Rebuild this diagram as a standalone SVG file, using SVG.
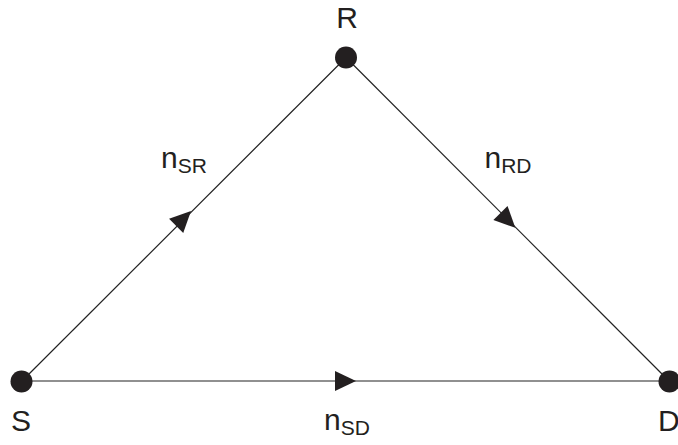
<svg xmlns="http://www.w3.org/2000/svg" xmlns:xlink="http://www.w3.org/1999/xlink" width="678" height="445" viewBox="0 0 678 445">
<style>
.edge{stroke:#222;stroke-width:1.2;fill:none}
.node{fill:#231f20}
.lbl{font-family:"Liberation Sans",Arial,sans-serif;font-size:30px;fill:#231f20}
.sub{font-size:21px}
.ah{fill:#231f20}
</style>
<defs>
<path id="arrow" d="M0,0 L-21,-10 L-21,10 Z"/>
</defs>
<g id="connectors">
<line class="edge" x1="21.5" y1="381.5" x2="346" y2="57.5"/>
<line class="edge" x1="346" y1="57.5" x2="669.5" y2="381.5"/>
<line class="edge" x1="21.5" y1="381" x2="669.5" y2="381"/>
<use xlink:href="#arrow" class="ah" transform="translate(191,211) rotate(-45)"/>
<use xlink:href="#arrow" class="ah" transform="translate(515.3,227.8) rotate(45)"/>
<use xlink:href="#arrow" class="ah" transform="translate(356,381)"/>
<text class="lbl" x="161" y="167.5">n<tspan class="sub" dy="5.5">SR</tspan></text>
<text class="lbl" x="484.5" y="167.5">n<tspan class="sub" dy="5.5">RD</tspan></text>
<text class="lbl" x="324" y="430">n<tspan class="sub" dy="5">SD</tspan></text>
</g>
<g id="node-R">
<circle class="node" cx="346" cy="57.5" r="11"/>
<text class="lbl" x="347" y="28" text-anchor="middle">R</text>
</g>
<g id="node-S">
<circle class="node" cx="21.5" cy="381.5" r="11"/>
<text class="lbl" x="11" y="431">S</text>
</g>
<g id="node-D">
<circle class="node" cx="669.5" cy="381.5" r="11"/>
<text class="lbl" x="658" y="431">D</text>
</g>
</svg>
